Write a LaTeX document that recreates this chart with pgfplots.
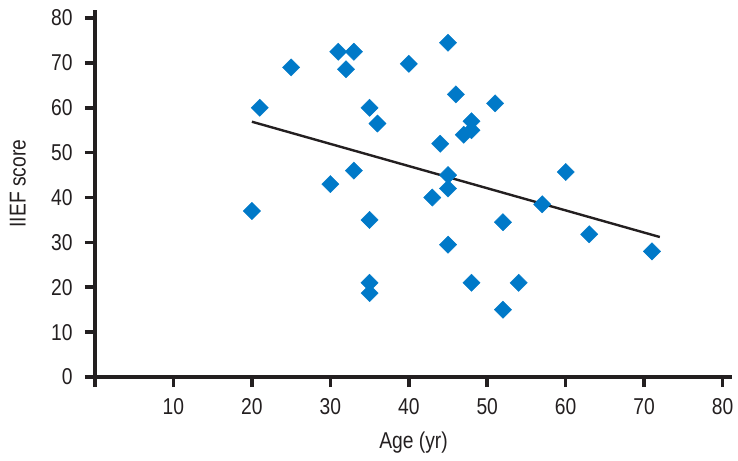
\documentclass[border=0pt]{standalone}
\usepackage{fontspec}
\setmainfont{Liberation Sans}[FakeStretch=0.84]
\usepackage{pgfplots}
\pgfplotsset{compat=1.18}
\definecolor{dotblue}{RGB}{0,121,200}
\definecolor{axisblack}{RGB}{35,31,32}
\begin{document}
\begin{tikzpicture}
\useasboundingbox (-95bp,-84bp) rectangle (643bp,377bp);
\begin{axis}[
    at={(0,0)}, anchor=south west,
    scale only axis,
    width=637bp, height=367bp,
    xmin=0, xmax=81.2,
    ymin=0, ymax=81.8,
    axis x line=bottom, axis y line=left,
    axis line style={-, line width=3.6bp, color=axisblack},
    every tick/.style={line width=3.6bp, color=axisblack},
    tick align=outside,
    major tick length=10bp,
    xtick={10,20,...,80},
    ytick={0,10,...,80},
    extra x ticks={0}, extra x tick labels={},
    /pgf/number format/assume math mode=true,
    tick label style={font=\fontsize{23}{26}\selectfont, color=axisblack},
    xticklabel style={yshift=-8bp},
    yticklabel style={xshift=-9bp},
    xlabel={Age (yr)},
    ylabel={IIEF score},
    label style={font=\fontsize{23}{26}\selectfont, color=axisblack},
    xlabel style={at={(axis description cs:0.5,-0.1935)}, anchor=base},
    ylabel style={at={(axis description cs:-0.121,0.527)}, anchor=center, rotate=0},
    clip=false,
]
% scatter points
\addplot[only marks, mark=square*, mark size=6.1bp, color=dotblue,
    mark options={rotate=45, draw=dotblue, fill=dotblue}] coordinates {
    (20,37) (21,60) (25,69) (31,72.5) (33,72.5) (32,68.6)
    (30,43) (33,46) (35,60) (36,56.5) (35,35) (35,21) (35,18.7)
    (40,69.8) (45,74.5) (46,63) (51,61) (48,57) (48,55) (47,54)
    (44,52) (45,45) (45,42) (43,40) (45,29.5) (52,34.5) (57,38.5)
    (60,45.7) (63,31.8) (71,28) (48,21) (54,21) (52,15)
};
% trend line
\addplot[color=axisblack, line width=2.4bp] coordinates {
    (20,56.9) (72,31.2)
};
\end{axis}
\end{tikzpicture}
\end{document}
